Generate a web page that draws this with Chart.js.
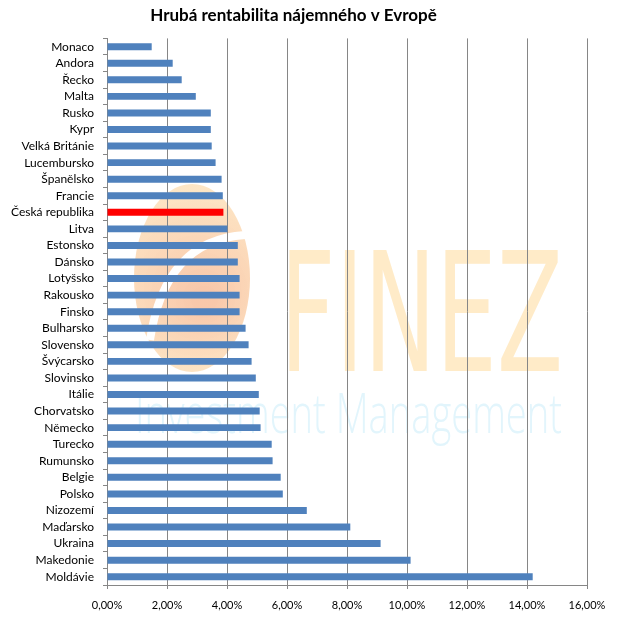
<!DOCTYPE html>
<html>
<head>
<meta charset="utf-8">
<script src="https://cdn.jsdelivr.net/npm/chart.js@4/dist/chart.umd.min.js"></script>
<style>
html,body{margin:0;padding:0;background:#fff;}
#wrap{width:621px;height:621px;}
</style>
</head>
<body>
<div id="wrap"><canvas id="c" width="621" height="621"></canvas></div>
<script>
const categories = ["Monaco","Andora","Řecko","Malta","Rusko","Kypr","Velká Británie","Lucembursko","Španělsko","Francie","Česká republika","Litva","Estonsko","Dánsko","Lotyšsko","Rakousko","Finsko","Bulharsko","Slovensko","Švýcarsko","Slovinsko","Itálie","Chorvatsko","Německo","Turecko","Rumunsko","Belgie","Polsko","Nizozemí","Maďarsko","Ukraina","Makedonie","Moldávie"];
const values = [1.49,2.19,2.49,2.96,3.46,3.46,3.49,3.62,3.82,3.86,3.88,4.01,4.36,4.36,4.42,4.42,4.42,4.62,4.72,4.82,4.96,5.06,5.09,5.12,5.49,5.52,5.79,5.86,6.66,8.11,9.12,10.12,14.19];
const highlight = "Česká republika";
const xTicks = [0,2,4,6,8,10,12,14,16];
const title = "Hrubá rentabilita nájemného v Evropě";

const watermark = {
  id: 'watermark',
  beforeDraw(chart) {
    const ctx = chart.ctx;
    ctx.save();
    // egg
    const g = ctx.createRadialGradient(205, 300, 10, 192, 280, 100);
    g.addColorStop(0, 'rgba(248,190,155,0.85)');
    g.addColorStop(1, 'rgba(253,226,185,0.8)');
    ctx.fillStyle = g;
    ctx.beginPath();
    ctx.ellipse(192, 278, 58, 94, 0, 0, Math.PI * 2);
    ctx.fill();
    ctx.strokeStyle = '#ffffff';
    ctx.lineWidth = 8;
    ctx.beginPath();
    ctx.moveTo(150, 340);
    ctx.quadraticCurveTo(165, 240, 245, 235);
    ctx.stroke();
    // FINEZ
    ctx.fillStyle = '#FFEBC8';
    ctx.font = '400 165px "Liberation Sans Narrow", "DejaVu Sans", sans-serif';
    ctx.textBaseline = 'alphabetic';
    ctx.textAlign = 'left';
    ctx.fillText('FINEZ', 280, 371, 283);
    // Investment Management
    ctx.fillStyle = '#E2F5FC';
    ctx.font = '300 56px "Open Sans", sans-serif';
    ctx.fillText('Investment Management', 135, 433, 427);
    ctx.restore();
  }
};

new Chart(document.getElementById('c'), {
  type: 'bar',
  data: {
    labels: categories,
    datasets: [{
      data: values,
      backgroundColor: categories.map(c => c === highlight ? '#FF0000' : '#4F81BD'),
      borderWidth: 0,
      barPercentage: 0.42,
      categoryPercentage: 1.0
    }]
  },
  plugins: [watermark],
  options: {
    indexAxis: 'y',
    responsive: false,
    animation: false,
    events: [],
    layout: { padding: { left: 0, right: 34, top: 0, bottom: 0 } },
    plugins: {
      legend: { display: false },
      tooltip: { enabled: false },
      title: {
        display: true,
        text: title,
        color: '#000',
        font: { family: 'Lato, "Open Sans", sans-serif', size: 17, weight: 'bold' },
        padding: { top: 5, bottom: 13 }
      }
    },
    scales: {
      x: {
        min: 0, max: 16,
        afterBuildTicks(s) { s.ticks = xTicks.map(v => ({ value: v })); },
        afterFit(s) { s.height = 36; },
        ticks: {
          callback: v => v.toFixed(2).replace('.', ',') + '%',
          color: '#000',
          font: { family: 'Lato, "Open Sans", sans-serif', size: 11 },
          padding: 10,
          maxRotation: 0
        },
        grid: { color: '#868686', lineWidth: 1, tickLength: 4, drawTicks: true },
        border: { color: '#868686', width: 1 }
      },
      y: {
        afterFit(s) { s.width = 107; },
        ticks: {
          color: '#000',
          font: { family: 'Lato, "Open Sans", sans-serif', size: 12 },
          padding: 9,
          autoSkip: false
        },
        grid: { drawOnChartArea: false, color: '#868686', tickLength: 4, offset: true },
        border: { color: '#868686', width: 1 }
      }
    }
  }
});
</script>
</body>
</html>
